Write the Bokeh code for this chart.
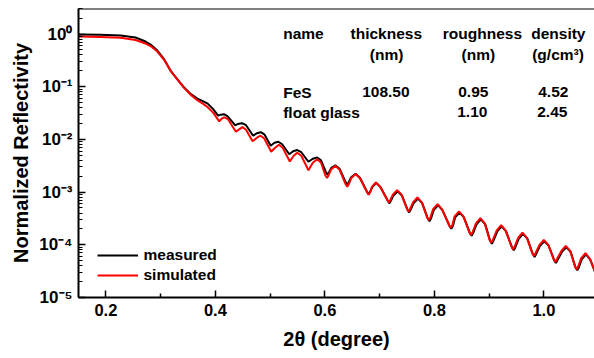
import math
from bokeh.plotting import figure
from bokeh.models import (Range1d, FixedTicker, Label, Legend, LegendItem, Span,
                          PrintfTickFormatter, CustomJSTickFormatter)
from bokeh.embed import file_html
from bokeh.resources import INLINE

# ---------------- data ----------------
measured_x = [0.150, 0.190, 0.227, 0.254, 0.2725, 0.2816, 0.294, 0.306, 0.318, 0.330,
              0.3425, 0.3547, 0.367, 0.377, 0.386, 0.396, 0.405,
              0.410, 0.4155, 0.422, 0.436,
              0.443, 0.449, 0.456, 0.469,
              0.476, 0.483, 0.490, 0.501,
              0.508, 0.515, 0.522, 0.535,
              0.542, 0.5495, 0.557, 0.570,
              0.578, 0.586, 0.593,
              0.602, 0.605, 0.608, 0.612, 0.619, 0.627,
              0.638, 0.641, 0.644, 0.648, 0.656, 0.664,
              0.677, 0.680, 0.683, 0.687, 0.694, 0.702,
              0.715, 0.718, 0.721, 0.725, 0.733, 0.741,
              0.751, 0.754, 0.757, 0.762, 0.770, 0.778,
              0.788, 0.791, 0.794, 0.799, 0.807, 0.815,
              0.828, 0.831, 0.834, 0.838, 0.846, 0.854,
              0.865, 0.868, 0.871, 0.877, 0.885, 0.893,
              0.902, 0.905, 0.908, 0.915, 0.923, 0.931,
              0.942, 0.945, 0.948, 0.954, 0.962, 0.970,
              0.980, 0.983, 0.986, 0.993, 1.001, 1.009,
              1.019, 1.022, 1.025, 1.033, 1.041, 1.049,
              1.058, 1.061, 1.064, 1.069, 1.077, 1.085,
              1.093]
measured_y = [0.978, 0.966, 0.936, 0.858, 0.720, 0.632, 0.486, 0.3377, 0.2023, 0.1407,
              0.0974, 0.0730, 0.0594, 0.0532, 0.0477, 0.0375, 0.0282,
              0.0295, 0.0301, 0.0276, 0.0186,
              0.0199, 0.0203, 0.0186, 0.01176,
              0.01312, 0.01370, 0.01229, 0.00759,
              0.00866, 0.00904, 0.00810, 0.00523,
              0.00597, 0.00629, 0.00571, 0.00377,
              0.00430, 0.00455, 0.00402,
              2.39e-3, 2.13e-3, 2.43e-3, 2.90e-3, 3.23e-3, 2.77e-3,
              1.55e-3, 1.38e-3, 1.57e-3, 1.91e-3, 2.23e-3, 1.87e-3,
              1.02e-3, 9.08e-4, 1.04e-3, 1.26e-3, 1.50e-3, 1.23e-3,
              6.85e-4, 6.12e-4, 6.98e-4, 8.51e-4, 1.04e-3, 8.51e-4,
              4.63e-4, 4.13e-4, 4.71e-4, 6.12e-4, 7.55e-4, 6.12e-4,
              3.15e-4, 2.81e-4, 3.20e-4, 4.61e-4, 5.61e-4, 4.51e-4,
              2.25e-4, 2.01e-4, 2.29e-4, 3.32e-4, 4.09e-4, 3.32e-4,
              1.66e-4, 1.48e-4, 1.69e-4, 2.44e-4, 3.04e-4, 2.44e-4,
              1.18e-4, 1.05e-4, 1.20e-4, 1.80e-4, 2.24e-4, 1.80e-4,
              8.85e-5, 7.90e-5, 9.01e-5, 1.30e-4, 1.61e-4, 1.30e-4,
              6.60e-5, 5.89e-5, 6.71e-5, 9.53e-5, 1.17e-4, 9.53e-5,
              5.07e-5, 4.53e-5, 5.16e-5, 7.33e-5, 9.00e-5, 7.33e-5,
              3.68e-5, 3.29e-5, 3.75e-5, 5.28e-5, 6.57e-5, 5.16e-5,
              3.12e-5]

simulated_x = [0.150, 0.190, 0.227, 0.254, 0.2725, 0.2816, 0.294, 0.306, 0.318, 0.330,
               0.3425, 0.3547, 0.367, 0.377, 0.386, 0.396, 0.407,
               0.4115, 0.4165, 0.423, 0.4375,
               0.444, 0.4495, 0.456, 0.468,
               0.476, 0.4825, 0.489, 0.502,
               0.509, 0.516, 0.523, 0.536,
               0.543, 0.5495, 0.557, 0.570,
               0.578, 0.586, 0.593,
               0.601, 0.604, 0.607, 0.611, 0.619, 0.627,
               0.638, 0.641, 0.644, 0.648, 0.656, 0.664,
               0.677, 0.680, 0.683, 0.686, 0.693, 0.701,
               0.714, 0.717, 0.720, 0.724, 0.732, 0.740,
               0.750, 0.753, 0.756, 0.761, 0.769, 0.777,
               0.787, 0.790, 0.793, 0.798, 0.806, 0.814,
               0.827, 0.830, 0.833, 0.837, 0.845, 0.853,
               0.864, 0.867, 0.870, 0.876, 0.884, 0.892,
               0.901, 0.904, 0.907, 0.914, 0.922, 0.930,
               0.941, 0.944, 0.947, 0.953, 0.961, 0.969,
               0.979, 0.982, 0.985, 0.992, 1.000, 1.008,
               1.018, 1.021, 1.024, 1.032, 1.040, 1.048,
               1.057, 1.060, 1.063, 1.068, 1.076, 1.084,
               1.093]
simulated_y = [0.897, 0.877, 0.847, 0.769, 0.660, 0.591, 0.465, 0.3275, 0.2023, 0.1395,
               0.0961, 0.0708, 0.0556, 0.0477, 0.0409, 0.0322, 0.0220,
               0.0247, 0.0262, 0.0242, 0.01401,
               0.01563, 0.01706, 0.01529, 0.00924,
               0.01077, 0.01176, 0.01054, 0.00584,
               0.00696, 0.00793, 0.00696, 0.00382,
               0.00490, 0.00559, 0.00490, 0.00260,
               0.00361, 0.00420, 0.00361,
               2.07e-3, 1.85e-3, 2.11e-3, 2.65e-3, 3.16e-3, 2.65e-3,
               1.41e-3, 1.26e-3, 1.44e-3, 1.83e-3, 2.20e-3, 1.83e-3,
               9.95e-4, 8.89e-4, 1.01e-3, 1.26e-3, 1.52e-3, 1.26e-3,
               7.10e-4, 6.34e-4, 7.23e-4, 8.89e-4, 1.09e-3, 8.89e-4,
               4.79e-4, 4.28e-4, 4.88e-4, 6.40e-4, 7.89e-4, 6.40e-4,
               3.29e-4, 2.94e-4, 3.35e-4, 4.81e-4, 5.91e-4, 4.71e-4,
               2.35e-4, 2.10e-4, 2.39e-4, 3.47e-4, 4.32e-4, 3.47e-4,
               1.72e-4, 1.54e-4, 1.76e-4, 2.55e-4, 3.20e-4, 2.55e-4,
               1.23e-4, 1.10e-4, 1.25e-4, 1.88e-4, 2.36e-4, 1.88e-4,
               9.24e-5, 8.25e-5, 9.41e-5, 1.35e-4, 1.71e-4, 1.35e-4,
               6.89e-5, 6.15e-5, 7.01e-5, 9.96e-5, 1.24e-4, 9.96e-5,
               5.30e-5, 4.73e-5, 5.39e-5, 7.66e-5, 9.53e-5, 7.66e-5,
               3.85e-5, 3.44e-5, 3.92e-5, 5.51e-5, 6.92e-5, 5.39e-5,
               3.19e-5]

series_names = ["measured", "simulated"]
x_ticks = [0.2, 0.4, 0.6, 0.8, 1.0]
x_minor_ticks = [0.3, 0.5, 0.7, 0.9]
y_ticks = [1.0, 0.1, 0.01, 0.001, 1e-4, 1e-5]

table_header = ["name", "thickness", "roughness", "density"]
table_units = ["", "(nm)", "(nm)", "(g/cm\u00b3)"]
table_rows = [["FeS", "108.50", "0.95", "4.52"],
              ["float glass", "", "1.10", "2.45"]]

# ---------------- figure ----------------
W, H = 594, 358
FL, FR, FT, FB = 78, 594, 8, 297          # frame box in pixels
X0, X1 = 0.15, 1.0925
Y0, Y1 = 1e-5, 3.05
FONT = "Liberation Sans"

p = figure(width=W, height=H, output_backend="svg", toolbar_location=None,
           y_axis_type="log", x_range=Range1d(X0, X1), y_range=Range1d(Y0, Y1),
           min_border_left=FL, min_border_right=W - FR, min_border_top=FT,
           min_border_bottom=H - FB)
p.outline_line_color = None
p.xgrid.grid_line_color = None
p.ygrid.grid_line_color = None
p.background_fill_color = "white"
p.border_fill_color = "white"


def px2x(px):
    return X0 + (px - FL) * (X1 - X0) / (FR - FL)


def py2y(py):
    l0, l1 = math.log10(Y0), math.log10(Y1)
    return 10 ** (l1 - (py - FT) * (l1 - l0) / (FB - FT))


# x axis
xa = p.xaxis[0]
xa.ticker = FixedTicker(ticks=x_ticks, minor_ticks=x_minor_ticks)
xa.formatter = PrintfTickFormatter(format="%.1f")
xa.axis_line_width = 2
xa.major_tick_in, xa.major_tick_out = 7, 0
xa.minor_tick_in, xa.minor_tick_out = 4, 0
xa.major_tick_line_width = 1.5
xa.minor_tick_line_width = 1.5
xa.major_label_text_font = FONT
xa.major_label_text_font_style = "bold"
xa.major_label_text_font_size = "16.5px"
xa.major_label_text_color = "black"
xa.major_label_standoff = 6
xa.axis_label = "2\u03b8 (degree)"
xa.axis_label_text_font = FONT
xa.axis_label_text_font_style = "bold"
xa.axis_label_text_font_size = "20px"
xa.axis_label_text_color = "black"
xa.axis_label_standoff = 9

# y axis: labels "10" with a superscript exponent
ya = p.yaxis[0]
ya.ticker = FixedTicker(ticks=y_ticks,
                        minor_ticks=[m * t for t in y_ticks for m in range(2, 10)])
ya.formatter = CustomJSTickFormatter(code="""
const sup = {'0':'\u2070','1':'\u00b9','2':'\u00b2','3':'\u00b3','4':'\u2074',
             '5':'\u2075','6':'\u2076','7':'\u2077','8':'\u2078','9':'\u2079','-':'\u207b'};
const e = Math.round(Math.log10(tick));
return '10' + String(e).split('').map(c => sup[c]).join('');
""")
ya.axis_line_width = 2
ya.major_tick_in, ya.major_tick_out = 7, 0
ya.minor_tick_in, ya.minor_tick_out = 4, 0
ya.major_tick_line_width = 1.5
ya.minor_tick_line_width = 1.2
ya.major_label_text_font = FONT
ya.major_label_text_font_style = "bold"
ya.major_label_text_font_size = "17px"
ya.major_label_text_color = "black"
ya.major_label_standoff = 6
ya.axis_label = "Normalized Reflectivity"
ya.axis_label_text_font = FONT
ya.axis_label_text_font_style = "bold"
ya.axis_label_text_font_size = "20px"
ya.axis_label_text_color = "black"
ya.axis_label_standoff = 4

# top border
p.add_layout(Span(location=Y1, dimension="width", line_color="black", line_width=2))

# curves
r_meas = p.line(measured_x, measured_y, line_color="black", line_width=2)
r_sim = p.line(simulated_x, simulated_y, line_color="#ff0000", line_width=2)

legend = Legend(items=[LegendItem(label=series_names[0], renderers=[r_meas]),
                       LegendItem(label=series_names[1], renderers=[r_sim])],
                location=(18.5, 12), orientation="vertical",
                border_line_color=None, background_fill_alpha=0,
                padding=0, margin=0, spacing=0,
                glyph_width=41, glyph_height=20, label_height=20, label_standoff=6,
                label_text_font=FONT, label_text_font_style="bold",
                label_text_font_size="15.5px", label_text_color="black")
p.add_layout(legend)

# parameter table
col_x = [282.7, 350, 442.3, 530.7]
units_x = [None, 369.3, 461, 531.7]
row_x = [[282.7, 361.7, 457.7, 537.7], [282.7, None, 456.7, 536.7]]
TS = "15.5px"


def put(text, px, py):
    p.add_layout(Label(x=px2x(px), y=py2y(py), text=text, text_align="left",
                       text_baseline="alphabetic", text_font=FONT,
                       text_font_style="bold", text_font_size=TS, text_color="black"))


for t, cx in zip(table_header, col_x):
    put(t, cx, 33)
for t, cx in zip(table_units, units_x):
    if t:
        put(t, cx, 54)
for row, xs, by in zip(table_rows, row_x, [91.7, 111.7]):
    for t, cx in zip(row, xs):
        if t:
            put(t, cx, by)

open("out.html", "w").write(file_html(p, INLINE))
